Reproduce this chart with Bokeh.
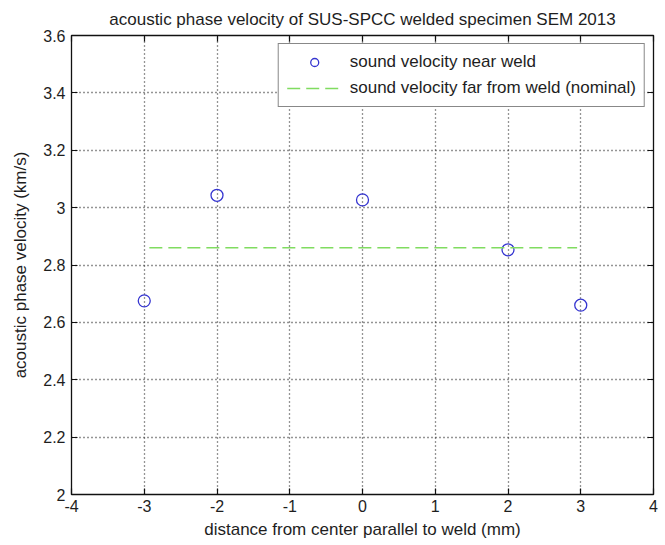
from bokeh.plotting import figure
from bokeh.models import FixedTicker, LinearAxis, Legend, LegendItem, Range1d
from bokeh.embed import file_html
from bokeh.resources import INLINE

# ---- data ----
x_near = [-3, -2, 0, 2, 3]
v_near = [2.675, 3.043, 3.027, 2.853, 2.66]
x_nominal = [-2.93, 2.95]
v_nominal = [2.86, 2.86]

x_ticks = [-4, -3, -2, -1, 0, 1, 2, 3, 4]
x_tick_labels = ["-4", "-3", "-2", "-1", "0", "1", "2", "3", "4"]
y_ticks = [2.0, 2.2, 2.4, 2.6, 2.8, 3.0, 3.2, 3.4, 3.6]
y_tick_labels = ["2", "2.2", "2.4", "2.6", "2.8", "3", "3.2", "3.4", "3.6"]

title_text = "acoustic phase velocity of SUS-SPCC welded specimen SEM 2013"
x_label = "distance from center parallel to weld (mm)"
y_label = "acoustic phase velocity (km/s)"
label_near = "sound velocity near weld"
label_nominal = "sound velocity far from weld (nominal)"

FONT = "Liberation Sans"
TXT = "#1e1e1e"

p = figure(width=665, height=545, output_backend="svg", toolbar_location=None,
           x_range=Range1d(-4, 4), y_range=Range1d(2, 3.6),
           min_border_left=71, min_border_right=12, min_border_top=35, min_border_bottom=51,
           background_fill_color="white", border_fill_color="white")

p.title.text = title_text
p.title.text_font = FONT
p.title.text_font_size = "17px"
p.title.text_font_style = "normal"
p.title.text_color = TXT
p.title.align = "center"
p.title.standoff = 13

p.outline_line_color = "#111111"
p.outline_line_width = 1.3

# grid
for g, tk in ((p.xgrid, x_ticks), (p.ygrid, y_ticks)):
    g.ticker = FixedTicker(ticks=tk)
    g.grid_line_color = "#2a2a2a"
    g.grid_line_dash = "1 3"
    g.grid_line_width = 1.3

def style_axis(ax, ticks, labels):
    ax.ticker = FixedTicker(ticks=ticks)
    ax.major_tick_in = 6
    ax.major_tick_out = 0
    ax.minor_tick_line_color = None
    ax.axis_line_color = "#111111"
    ax.major_tick_line_color = "#111111"
    ax.major_tick_line_width = 1.2
    ax.major_label_text_font = FONT
    ax.major_label_text_color = TXT
    if labels is not None:
        ax.major_label_overrides = {t: l for t, l in zip(ticks, labels)}
        ax.major_label_text_font_size = "16px"
        ax.axis_label_text_font = FONT
        ax.axis_label_text_font_size = "17px"
        ax.axis_label_text_font_style = "normal"
        ax.axis_label_text_color = TXT
    else:
        ax.major_label_overrides = {t: "" for t in ticks}
        ax.major_label_standoff = 0

xa = p.xaxis[0]
style_axis(xa, x_ticks, x_tick_labels)
xa.axis_label = x_label
xa.major_label_standoff = 5
xa.axis_label_standoff = 5

ya = p.yaxis[0]
style_axis(ya, y_ticks, y_tick_labels)
ya.axis_label = y_label
ya.major_label_standoff = 6
ya.axis_label_standoff = 10

top_ax = LinearAxis()
style_axis(top_ax, x_ticks, None)
p.add_layout(top_ax, "above")
right_ax = LinearAxis()
style_axis(right_ax, y_ticks, None)
p.add_layout(right_ax, "right")

r_near = p.scatter(x_near, v_near, marker="circle", size=12, fill_color=None,
                   line_color="#3535d0", line_width=1.3)
r_nom = p.line(x_nominal, v_nominal, line_color="#80dc60", line_width=1.6,
               line_dash="13 6")

legend = Legend(items=[LegendItem(label=label_near, renderers=[r_near]),
                       LegendItem(label=label_nominal, renderers=[r_nom])],
                location="top_right")
legend.label_text_font = FONT
legend.label_text_font_size = "17px"
legend.label_text_color = TXT
legend.border_line_color = "#111111"
legend.border_line_width = 1.3
legend.background_fill_color = "white"
legend.background_fill_alpha = 1.0
legend.padding = 8
legend.spacing = 6
legend.margin = 8
legend.glyph_width = 55
legend.glyph_height = 20
legend.label_height = 20
legend.label_standoff = 8
p.add_layout(legend, "center")

open("out.html", "w").write(file_html(p, INLINE))
